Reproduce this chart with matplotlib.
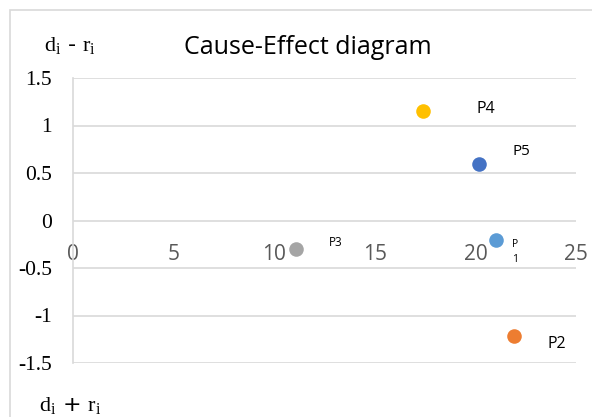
"""Cause-Effect diagram (scatter of d_i + r_i vs d_i - r_i)"""

import matplotlib.pyplot as plt
from matplotlib.patches import Rectangle

names = ["P1", "P2", "P3", "P4", "P5"]
sum_dr = [21.0, 21.9, 11.1, 17.4, 20.2]
diff_dr = [-0.21, -1.22, -0.30, 1.15, 0.59]
colors = ["#5B9BD5", "#ED7D31", "#A5A5A5", "#FFC000", "#4472C4"]
x_ticks = [0, 5, 10, 15, 20, 25]
y_ticks = [-1.5, -1, -0.5, 0, 0.5, 1, 1.5]
y_ticklabels = ["-1.5", "-1", "-0.5", "0", "0.5", "1", "1.5"]

plt.rcParams["mathtext.fontset"] = "custom"
plt.rcParams["mathtext.rm"] = "Liberation Serif"
plt.rcParams["mathtext.it"] = "Liberation Serif"


def main():
    fig = plt.figure(figsize=(5.92, 4.17), dpi=100)
    # chart border (Excel style frame, cut by the image edge)
    fig.patches.append(Rectangle((10 / 592, -0.1), 1.2, 1 - 10 / 417 + 0.1,
                                 transform=fig.transFigure, fill=False,
                                 edgecolor="#D9D9D9", linewidth=1.2))
    ax = fig.add_axes([73 / 592, 1 - 363 / 417, (576 - 73) / 592, (363 - 78) / 417])
    # x axis crosses at y = 0 (set before styling, it resets the ticks)
    ax.spines["bottom"].set_position(("data", 0))
    ax.spines["bottom"].set_visible(False)

    for x, y, c in zip(sum_dr, diff_dr, colors):
        ax.scatter(x, y, s=110, color=c, zorder=3, linewidths=0)

    ax.set_xlim(0, 25)
    ax.set_ylim(-1.5, 1.5)
    ax.set_yticks(y_ticks)
    ax.set_yticklabels(y_ticklabels, family="Liberation Serif", fontsize=15.5)
    ax.tick_params(axis="y", length=0, pad=15)
    ax.set_xticks(x_ticks)
    ax.set_xticklabels([str(t) for t in x_ticks], family="Open Sans",
                       fontsize=15, color="#595959")
    ax.tick_params(axis="x", length=0, pad=17)
    for s in ["top", "right"]:
        ax.spines[s].set_visible(False)
    ax.spines["left"].set_color("#D9D9D9")
    ax.spines["left"].set_linewidth(1.2)
    ax.grid(axis="y", color="#D9D9D9", linewidth=1.2)
    ax.set_axisbelow(True)

    # point labels
    ax.text(20.5, 1.17, "P4", fontsize=11.5, family="Open Sans", va="center", ha="center")
    ax.text(22.3, 0.73, "P5", fontsize=11, family="Open Sans", va="center", ha="center")
    ax.text(13.05, -0.23, "P3", fontsize=8.5, family="Open Sans", va="center", ha="center")
    ax.text(21.95, -0.33, "P\n1", fontsize=7.5, family="Open Sans", va="center",
            ha="center", linespacing=1.5)
    ax.text(24.05, -1.3, "P2", fontsize=11.5, family="Open Sans", va="center", ha="center")

    fig.text(308 / 592, 1 - 48 / 417, "Cause-Effect diagram", fontsize=18,
             family="Open Sans", ha="center", va="center")
    fig.text(70 / 592, 1 - 46 / 417, r"$d_i$ - $r_i$", fontsize=16, ha="center", va="center")
    fig.text(70 / 592, 1 - 406 / 417, r"$d_i$ + $r_i$", fontsize=16, ha="center", va="center")

    fig.savefig("out.png", dpi=100)


main()
